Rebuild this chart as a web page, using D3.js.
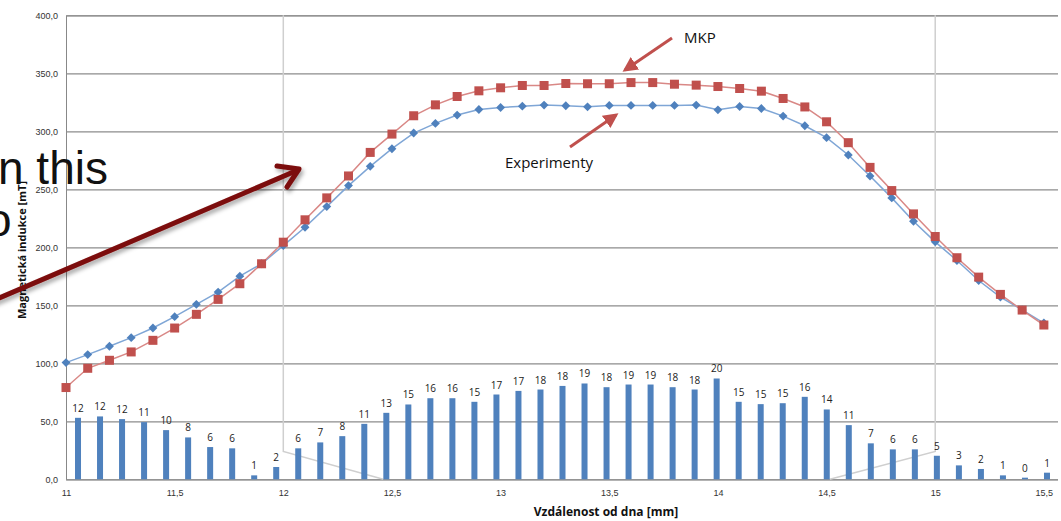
<!DOCTYPE html>
<html>
<head>
<meta charset="utf-8">
<script src="https://cdn.jsdelivr.net/npm/d3@7"></script>
<style>
  body { margin: 0; background: #fff; }
  svg { display: block; font-family: "Open Sans", "DejaVu Sans", sans-serif; }
</style>
</head>
<body>
<svg width="1061" height="521"></svg>
<script>
// hodnoty
let positions = [11.0, 11.1, 11.2, 11.3, 11.4, 11.5, 11.6, 11.7, 11.8, 11.9,
    12.0, 12.1, 12.2, 12.3, 12.4, 12.5, 12.6, 12.7, 12.8, 12.9,
    13.0, 13.1, 13.2, 13.3, 13.4, 13.5, 13.6, 13.7, 13.8, 13.9,
    14.0, 14.1, 14.2, 14.3, 14.4, 14.5, 14.6, 14.7, 14.8, 14.9,
    15.0, 15.1, 15.2, 15.3, 15.4, 15.5];

let mkp = [79.1, 95.7, 102.6, 109.8, 119.8, 130.4, 142.2, 155.1, 168.6, 185.8,
    204.4, 223.7, 242.6, 261.5, 281.8, 297.6, 313.4, 322.8, 330.0, 334.9,
    337.5, 339.5, 339.5, 341.2, 341.0, 341.0, 342.0, 342.0, 340.6, 339.8,
    338.6, 336.9, 334.6, 328.3, 321.0, 308.2, 290.2, 268.9, 248.9, 228.8,
    209.3, 191.0, 174.3, 159.4, 145.9, 133.0];

let experimenty = [100.6, 107.5, 114.7, 122.1, 130.4, 140.2, 150.8, 161.4, 175.1, 185.8,
    201.5, 217.3, 235.1, 253.2, 269.8, 285.0, 298.5, 306.8, 314.0, 318.8,
    320.5, 321.7, 322.6, 322.0, 321.1, 322.3, 322.3, 322.3, 322.3, 322.6,
    318.5, 321.4, 319.7, 313.1, 304.8, 294.5, 279.6, 261.5, 242.6, 222.5,
    204.7, 188.6, 171.4, 157.1, 146.0, 134.7];

// sloupce (výška v jednotkách osy y) a jejich popisky
let barHeights = [53.0, 54.2, 51.9, 49.3, 42.4, 36.1, 27.8, 26.7, 3.4, 10.6,
    26.7, 31.8, 37.2, 47.8, 57.3, 64.5, 69.9, 69.9, 66.8, 73.1,
    76.2, 77.4, 80.5, 82.6, 79.4, 81.7, 81.7, 79.4, 77.4, 86.9,
    66.8, 64.8, 65.6, 71.1, 60.2, 46.7, 31.0, 25.8, 25.8, 20.3,
    12.0, 8.9, 3.4, 1.4, 5.7];
let barLabels = [12, 12, 12, 11, 10, 8, 6, 6, 1, 2,
    6, 7, 8, 11, 13, 15, 16, 16, 15, 17,
    17, 18, 18, 19, 18, 19, 19, 18, 18, 20,
    15, 15, 15, 16, 14, 11, 7, 6, 6, 5,
    3, 2, 1, 0, 1];

let yTicks = [0, 50, 100, 150, 200, 250, 300, 350, 400];
let xTicks = [11, 11.5, 12, 12.5, 13, 13.5, 14, 14.5, 15, 15.5];

// šedý rámeček (výřez) v datových jednotkách
let frameLeft = [[12, 400], [12, 24], [12.46, 0]];
let frameRight = [[15, 400], [15, 24], [14.515, 0]];

let svg = d3.select("svg");
let plotLeft = 66, plotRight = 1058, plotTop = 15.3, plotBottom = 479.3;

let x = d3.scaleLinear().domain([11, 15.565]).range([plotLeft, plotRight]);
let y = d3.scaleLinear().domain([0, 400]).range([plotBottom, plotTop]);
let xb = d3.scaleBand().domain(d3.range(barLabels.length)).range([67, plotRight]);

let fmt = d => String(d).replace(".", ",");

// mřížka a osa y
let yAxis = svg.append("g")
    .attr("transform", "translate(" + plotLeft + ",0)")
    .call(d3.axisLeft(y).tickValues(yTicks).tickSize(-(plotRight - plotLeft)).tickPadding(8)
        .tickFormat(d => d.toFixed(1).replace(".", ",")));
yAxis.select(".domain").attr("stroke", "#888");
yAxis.selectAll(".tick line").attr("stroke", "#8c8c8c").attr("stroke-width", 1.2);
yAxis.selectAll("text").attr("font-size", 9).attr("fill", "#333").attr("dy", "0.32em");

// rámeček
let frameLine = d3.line().x(d => x(d[0])).y(d => y(d[1]));
[frameLeft, frameRight].forEach(f => {
    svg.append("path").attr("d", frameLine(f))
        .attr("fill", "none").attr("stroke", "#cfcfcf").attr("stroke-width", 1.5);
});

// osa x (jen popisky)
let xAxis = svg.append("g")
    .attr("transform", "translate(0," + plotBottom + ")")
    .call(d3.axisBottom(x).tickValues(xTicks).tickSize(0).tickPadding(10).tickFormat(fmt));
xAxis.select(".domain").remove();
xAxis.selectAll("text").attr("font-size", 9).attr("fill", "#333");

// sloupce
svg.append("g").selectAll("rect")
    .data(barHeights)
    .enter().append("rect")
    .attr("x", (d, i) => xb(i) + xb.bandwidth() / 2 - 3)
    .attr("width", 6)
    .attr("y", d => y(d))
    .attr("height", d => plotBottom - y(d))
    .attr("fill", "#4f81bd");

svg.append("g").selectAll("text")
    .data(barLabels)
    .enter().append("text")
    .attr("x", (d, i) => xb(i) + xb.bandwidth() / 2)
    .attr("y", (d, i) => y(barHeights[i]) - 6)
    .attr("text-anchor", "middle")
    .attr("font-size", 10)
    .attr("fill", "#222")
    .text(d => d);

// křivky
let line = d3.line().x((d, i) => x(positions[i])).y(d => y(d));

svg.append("path").datum(experimenty)
    .attr("d", line).attr("fill", "none")
    .attr("stroke", "#7fa6d6").attr("stroke-width", 1.5);
svg.append("path").datum(mkp)
    .attr("d", line).attr("fill", "none")
    .attr("stroke", "#d98886").attr("stroke-width", 1.5);

svg.append("g").selectAll("path")
    .data(experimenty)
    .enter().append("path")
    .attr("transform", (d, i) => "translate(" + x(positions[i]) + "," + y(d) + ")")
    .attr("d", d3.symbol(d3.symbolDiamond2, 50))
    .attr("fill", "#4f81bd");

svg.append("g").selectAll("rect")
    .data(mkp)
    .enter().append("rect")
    .attr("x", (d, i) => x(positions[i]) - 4.5)
    .attr("y", d => y(d) - 4.5)
    .attr("width", 9).attr("height", 9)
    .attr("fill", "#c0504d");

// popisky os
svg.append("text")
    .attr("transform", "translate(26,250)rotate(-90)")
    .attr("text-anchor", "middle")
    .attr("font-size", 11).attr("font-weight", "bold")
    .attr("fill", "#111")
    .text("Magnetická indukce [mT]");

svg.append("text")
    .attr("x", 606).attr("y", 516)
    .attr("text-anchor", "middle")
    .attr("font-size", 12).attr("font-weight", "bold")
    .attr("fill", "#111")
    .text("Vzdálenost od dna [mm]");

// šipky s popisky
let defs = svg.append("defs");
defs.append("marker").attr("id", "redhead")
    .attr("viewBox", "0 0 10 10").attr("refX", 8).attr("refY", 5)
    .attr("markerWidth", 5).attr("markerHeight", 5).attr("orient", "auto")
    .append("path").attr("d", "M0,0L10,5L0,10z").attr("fill", "#c0504d");
defs.append("filter").attr("id", "shadow")
    .append("feDropShadow").attr("dx", 2).attr("dy", 3).attr("stdDeviation", 2)
    .attr("flood-color", "#000").attr("flood-opacity", 0.35);

svg.append("line")
    .attr("x1", 672).attr("y1", 38).attr("x2", 625).attr("y2", 70)
    .attr("stroke", "#c0504d").attr("stroke-width", 3)
    .attr("marker-end", "url(#redhead)");
svg.append("text").attr("x", 684).attr("y", 43)
    .attr("font-size", 15).attr("fill", "#111").text("MKP");

svg.append("line")
    .attr("x1", 570).attr("y1", 147).attr("x2", 616).attr("y2", 115)
    .attr("stroke", "#c0504d").attr("stroke-width", 3)
    .attr("marker-end", "url(#redhead)");
svg.append("text").attr("x", 505).attr("y", 168)
    .attr("font-size", 15).attr("fill", "#111").text("Experimenty");

// překryv ze snímku prezentace
svg.append("text").attr("x", -2).attr("y", 184)
    .attr("font-family", "Liberation Sans, Arial, sans-serif")
    .attr("font-size", 46).attr("fill", "#111").text("n this");
svg.append("text").attr("x", -14).attr("y", 236)
    .attr("font-family", "Liberation Sans, Arial, sans-serif")
    .attr("font-size", 46).attr("fill", "#111").text("o");

let big = svg.append("g").attr("filter", "url(#shadow)")
    .attr("stroke", "#7b0a0a").attr("stroke-width", 5).attr("fill", "none")
    .attr("stroke-linecap", "round").attr("stroke-linejoin", "round");
big.append("path").attr("d", "M-10,302L298,170");
big.append("path").attr("d", "M277,166L299,169L287,187");
</script>
</body>
</html>
